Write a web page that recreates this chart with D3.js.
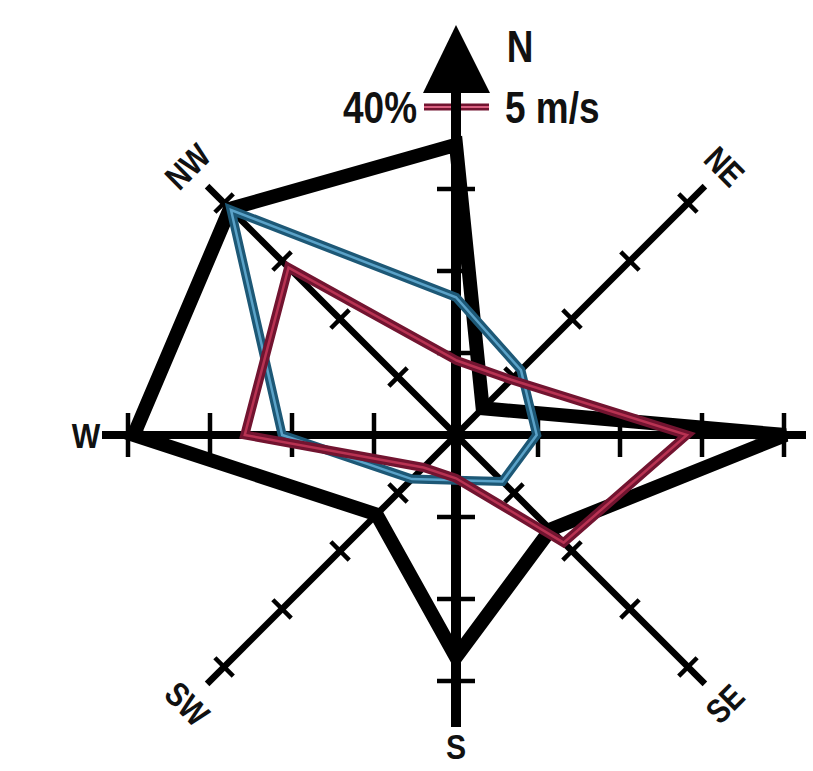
<!DOCTYPE html>
<html>
<head>
<meta charset="utf-8">
<script src="https://cdn.jsdelivr.net/npm/d3@7"></script>
<style>
  html, body { margin: 0; padding: 0; background: #fff; }
  svg { display: block; }
  text { font-family: "Liberation Sans", Arial, sans-serif; font-weight: bold; fill: #111; }
</style>
</head>
<body>
<svg id="chart" width="813" height="771"></svg>
<script>
// ---- data ----
const directions = ["N", "NE", "E", "SE", "S", "SW", "W", "NW"];
const frequency = [35.4, 4.6, 40.2, 16.3, 27.1, 13.7, 39.3, 39.0];      // % (black)
const speedRed = [1.14, 1.19, 3.52, 2.32, 0.66, 0.70, 3.22, 3.61];       // m/s (red)
const speedBlue = [2.10, 1.40, 1.23, 1.00, 0.69, 0.95, 2.65, 4.85];      // m/s (blue)
const freqTicks = [10, 20, 30, 40];
const legendLabels = ["40%", "5 m/s"];

// ---- layout ----
const cx = 456, cy = 435;
const rMax = 328;
const rFreq = d3.scaleLinear().domain([0, 40]).range([0, rMax]);
const rSpeed = d3.scaleLinear().domain([0, 5]).range([0, rMax]);
const angle = d3.scaleLinear().domain([0, 8]).range([0, 2 * Math.PI]);
const axisLen = [342, 352, 350, 352, 292, 352, 354, 352];

const svg = d3.select("#chart");
const g = svg.append("g").attr("transform", `translate(${cx},${cy})`);

function pt(i, r) {
  const a = angle(i);
  return [r * Math.sin(a), -r * Math.cos(a)];
}

// ---- axes ----
const axisW = [10, 6.5, 8, 6.5, 10, 6.5, 8, 6.5];
directions.forEach((d, i) => {
  const [x, y] = pt(i, axisLen[i]);
  g.append("line").attr("x1", 0).attr("y1", 0).attr("x2", x).attr("y2", y)
    .attr("stroke", "#000").attr("stroke-width", axisW[i]);
  const diag = i % 2 === 1;
  const half = diag ? 13 : (i === 0 || i === 4 ? 19 : 22);
  freqTicks.forEach(t => {
    const r = rFreq(t);
    if (r > axisLen[i] - 8) return;
    if (i === 0 && t === 40) return;
    const [px, py] = pt(i, r);
    const a = angle(i);
    const nx = Math.cos(a), ny = Math.sin(a);
    g.append("line")
      .attr("x1", px - nx * half).attr("y1", py - ny * half)
      .attr("x2", px + nx * half).attr("y2", py + ny * half)
      .attr("stroke", "#000").attr("stroke-width", 4.5);
  });
});

// ---- polygons ----
const radial = scale => d3.lineRadial()
  .angle((d, i) => angle(i))
  .radius(d => scale(d))
  .curve(d3.curveLinearClosed);

g.append("path").datum(frequency).attr("d", radial(rFreq))
  .attr("fill", "none").attr("stroke", "#000").attr("stroke-width", 14)
  .attr("stroke-linejoin", "miter");

function doubleLine(data, outer, inner) {
  g.append("path").datum(data).attr("d", radial(rSpeed))
    .attr("fill", "none").attr("stroke", outer).attr("stroke-width", 9);
  g.append("path").datum(data).attr("d", radial(rSpeed))
    .attr("fill", "none").attr("stroke", inner).attr("stroke-width", 2.5);
}
doubleLine(speedBlue, "#1d5876", "#5aa2c8");
doubleLine(speedRed, "#721430", "#b83252");

// ---- legend scale mark on N axis (40% / 5 m/s) ----
const [, ly] = pt(0, rFreq(40));
g.append("line").attr("x1", -32).attr("x2", 33).attr("y1", ly).attr("y2", ly)
  .attr("stroke", "#721430").attr("stroke-width", 7);
g.append("line").attr("x1", -32).attr("x2", 33).attr("y1", ly).attr("y2", ly)
  .attr("stroke", "#d86080").attr("stroke-width", 2);
g.append("line").attr("x1", 0).attr("x2", 0).attr("y1", ly - 10).attr("y2", ly + 10)
  .attr("stroke", "#000").attr("stroke-width", 10);

// ---- arrow ----
const [, ay] = pt(0, axisLen[0]);
g.append("path")
  .attr("d", `M0,${ay - 68} L${-33},${ay} L${34},${ay} Z`)
  .attr("fill", "#000");

// ---- texts ----
function label(txt, x, y, size, anchor, rot, dy) {
  svg.append("g").attr("transform", `translate(${x},${y}) rotate(${rot || 0}) scale(0.84,1)`)
    .append("text").attr("text-anchor", anchor).attr("font-size", size)
    .attr("y", dy || 0).text(txt);
}
label("N", cx + 64, 62, 44, "middle");
label(legendLabels[0], cx - 39, cy + ly + 16, 44, "end");
label(legendLabels[1], cx + 49, cy + ly + 16, 44, "start");

// direction labels (other than N)
const labelR = [0, 380, 0, 380, 311, 380, 370, 380];
const labelRot = [0, 45, 0, -45, 0, 45, 0, -45];
directions.forEach((d, i) => {
  if (i === 0 || i === 2) return;
  const [x, y] = pt(i, labelR[i]);
  const size = i % 2 ? 34 : 36;
  label(d, cx + x, cy + y, size, "middle", labelRot[i], size * 0.36);
});
</script>
</body>
</html>
